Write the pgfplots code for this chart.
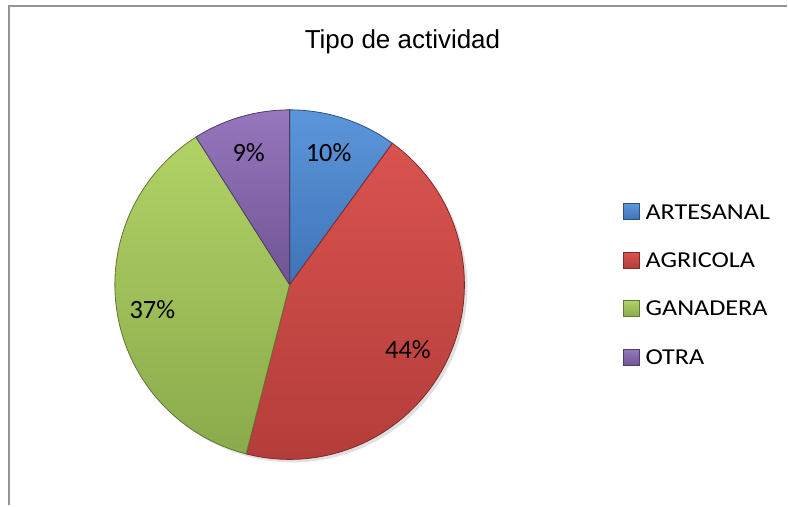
\documentclass[border=0pt]{standalone}
\usepackage{pgfplots}
\pgfplotsset{compat=1.18}
\usepackage{fontspec}
\setmainfont{Carlito}
\newfontfamily\titlefont{Liberation Sans}

\definecolor{blueT}{HTML}{5C96DA}\definecolor{blueB}{HTML}{3F73B8}
\definecolor{redT}{HTML}{D9534F}\definecolor{redB}{HTML}{B33D3A}
\definecolor{greenT}{HTML}{B0D265}\definecolor{greenB}{HTML}{8BAA4C}
\definecolor{purT}{HTML}{9676BE}\definecolor{purB}{HTML}{6F5593}

\begin{document}
\begin{tikzpicture}
% canvas in reference pixels (y up), 0.5pt per pixel
\begin{axis}[
  x=0.5pt, y=0.5pt, xmin=0, xmax=788, ymin=0, ymax=506,
  axis lines=none, clip=false,
]
\addplot[draw=none] coordinates {(0,0)(788,506)};
% chart frame
\addplot[color=gray!85, line width=1pt] coordinates {(9,0)(9,500)(788,500)};

% soft shadow
\addplot[draw=none, fill=black, fill opacity=0.12, domain=0:360, samples=90, variable=\t]
  ({293+175*cos(\t)}, {218+175*sin(\t)}) -- cycle;

% slices, clockwise from 12 o'clock: 10, 44, 37, 9 (%), 3.6 deg per %
\addplot[draw=blueB!70!black, line width=0.4pt, top color=blueT, bottom color=blueB,
  domain=54:90, samples=30, variable=\t]
  ({290+175*cos(\t)}, {221+175*sin(\t)}) -- (axis cs:290,221) -- cycle;
\addplot[draw=redB!70!black, line width=0.4pt, top color=redT, bottom color=redB,
  domain=-104.4:54, samples=90, variable=\t]
  ({290+175*cos(\t)}, {221+175*sin(\t)}) -- (axis cs:290,221) -- cycle;
\addplot[draw=greenB!70!black, line width=0.4pt, top color=greenT, bottom color=greenB,
  domain=-237.6:-104.4, samples=80, variable=\t]
  ({290+175*cos(\t)}, {221+175*sin(\t)}) -- (axis cs:290,221) -- cycle;
\addplot[draw=purB!70!black, line width=0.4pt, top color=purT, bottom color=purB,
  domain=-270:-237.6, samples=30, variable=\t]
  ({290+175*cos(\t)}, {221+175*sin(\t)}) -- (axis cs:290,221) -- cycle;

% data labels
\node[font=\fontsize{13.2}{15}\selectfont] at (axis cs:329,353) {10\%};
\node[font=\fontsize{13.2}{15}\selectfont] at (axis cs:408.5,155.5) {44\%};
\node[font=\fontsize{13.2}{15}\selectfont] at (axis cs:152.5,196) {37\%};
\node[font=\fontsize{13.2}{15}\selectfont] at (axis cs:249,353) {9\%};

% title
\node[font=\titlefont\fontsize{13}{15}\selectfont, anchor=base] at (axis cs:403,457) {Tipo de actividad};

% legend
\addplot[draw=blueB!70!black, line width=0.3pt, top color=blueT, bottom color=blueB]
  coordinates {(624,286)(640,286)(640,302)(624,302)} -- cycle;
\addplot[draw=redB!70!black, line width=0.3pt, top color=redT, bottom color=redB]
  coordinates {(624,237)(640,237)(640,253)(624,253)} -- cycle;
\addplot[draw=greenB!70!black, line width=0.3pt, top color=greenT, bottom color=greenB]
  coordinates {(624,189)(640,189)(640,205)(624,205)} -- cycle;
\addplot[draw=purB!70!black, line width=0.3pt, top color=purT, bottom color=purB]
  coordinates {(624,140)(640,140)(640,156)(624,156)} -- cycle;
\begin{scope}[every node/.style={anchor=west, inner sep=0pt,
    font=\addfontfeatures{FakeStretch=1.15}\fontsize{11.4}{13}\selectfont}]
\node at (axis cs:646,294) {ARTESANAL};
\node at (axis cs:646,245) {AGRICOLA};
\node at (axis cs:646,197) {GANADERA};
\node at (axis cs:646,148) {OTRA};
\end{scope}
\end{axis}
\end{tikzpicture}
\end{document}
